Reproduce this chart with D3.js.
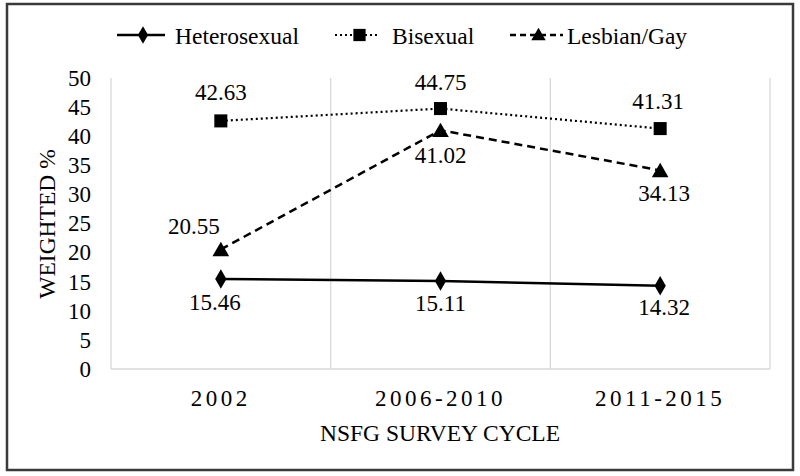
<!DOCTYPE html>
<html><head><meta charset="utf-8">
<script src="https://cdn.jsdelivr.net/npm/d3@7"></script>
</head>
<body style="margin:0">
<svg id="c" width="800" height="476"></svg>
<script>
const categories = ["2002", "2006-2010", "2011-2015"];
const heterosexual = [15.46, 15.11, 14.32];
const bisexual = [42.63, 44.75, 41.31];
const lesbianGay = [20.55, 41.02, 34.13];
const seriesNames = ["Heterosexual", "Bisexual", "Lesbian/Gay"];
const yTicks = [0, 5, 10, 15, 20, 25, 30, 35, 40, 45, 50];
const yTitle = "WEIGHTED %";
const xTitle = "NSFG SURVEY CYCLE";

const FONT = "Liberation Serif";
const svg = d3.select("#c");
const pLeft = 111, pRight = 770, pTop = 78, pBottom = 369;

svg.append("rect").attr("x", 7).attr("y", 4).attr("width", 786).attr("height", 466)
  .attr("fill", "none").attr("stroke", "#3a3a3a").attr("stroke-width", 2.5);

const x = d3.scaleBand().domain(categories).range([pLeft, pRight]).paddingInner(0).paddingOuter(0);
const y = d3.scaleLinear().domain([0, 50]).range([pBottom, pTop]);

const bounds = categories.map(c => x(c)).concat([x(categories[categories.length - 1]) + x.bandwidth()]);
svg.append("g").selectAll("line").data(bounds).join("line")
  .attr("x1", d => d).attr("x2", d => d).attr("y1", y(50)).attr("y2", y(0))
  .attr("stroke", "#d9d9d9").attr("stroke-width", 1.3);
svg.append("line").attr("x1", pLeft).attr("x2", pRight).attr("y1", y(0)).attr("y2", y(0))
  .attr("stroke", "#d9d9d9").attr("stroke-width", 1.5);

const ya = svg.append("g").attr("transform", "translate(" + (pLeft - 20) + ",0)")
  .call(d3.axisLeft(y).tickValues(yTicks).tickSize(0).tickPadding(0));
ya.attr("font-family", FONT).attr("font-size", 23);
ya.select(".domain").remove();
ya.selectAll("text").attr("font-family", FONT).attr("font-size", 23).attr("fill", "#000");

const xa = svg.append("g").attr("transform", "translate(0," + pBottom + ")")
  .call(d3.axisBottom(x).tickSize(0).tickPadding(0));
xa.attr("font-family", FONT).attr("font-size", 23);
xa.select(".domain").remove();
xa.selectAll("text").attr("font-family", FONT).attr("font-size", 23).attr("fill", "#000")
  .attr("letter-spacing", 3.5).attr("dy", 0).attr("y", 37);

svg.append("text").attr("x", 440).attr("y", 441).attr("text-anchor", "middle")
  .attr("font-family", FONT).attr("font-size", 23.5).text(xTitle);
svg.append("text").attr("transform", "translate(55,224) rotate(-90)").attr("text-anchor", "middle")
  .attr("font-family", FONT).attr("font-size", 23.5).text(yTitle);

const cx = c => x(c) + x.bandwidth() / 2;
const styles = [
  {dash: null, w: 2.5, marker: d3.symbolDiamond, size: 110, data: heterosexual},
  {dash: "2,3", w: 2.2, marker: d3.symbolSquare, size: 170, data: bisexual},
  {dash: "8,5", w: 2.5, marker: d3.symbolTriangle, size: 120, data: lesbianGay}
];
const labelPos = [
  [[-6, 31], [0, 30], [4, 29]],
  [[0, -21], [0, -19], [-2, -20]],
  [[-27, -15], [0, 33], [4, 31]]
];

const lineGen = d3.line().x(d => cx(d.c)).y(d => y(d.v));
styles.forEach((s, i) => {
  const pts = categories.map((c, j) => ({c: c, v: s.data[j]}));
  svg.append("path").datum(pts).attr("d", lineGen).attr("fill", "none")
    .attr("stroke", "#000").attr("stroke-width", s.w)
    .attr("stroke-dasharray", s.dash);
  svg.append("g").selectAll("path").data(pts).join("path")
    .attr("transform", d => "translate(" + cx(d.c) + "," + (y(d.v) + (s.marker === d3.symbolTriangle ? 2 : 0)) + ")")
    .attr("d", d3.symbol(s.marker, s.size)).attr("fill", "#000");
  svg.append("g").selectAll("text").data(pts).join("text")
    .attr("x", (d, j) => cx(d.c) + labelPos[i][j][0])
    .attr("y", (d, j) => y(d.v) + labelPos[i][j][1])
    .attr("text-anchor", "middle").attr("font-family", FONT).attr("font-size", 23)
    .text(d => d.v.toFixed(2));
});

const legX = [117, 335, 510];
const legW = [48, 43, 53];
const legY = 35;
styles.forEach((s, i) => {
  const g = svg.append("g");
  g.append("line").attr("x1", legX[i]).attr("x2", legX[i] + legW[i]).attr("y1", legY).attr("y2", legY)
    .attr("stroke", "#000").attr("stroke-width", s.w).attr("stroke-dasharray", s.dash ? (i === 1 ? "2,3" : "6,4") : null);
  g.append("path").attr("transform", "translate(" + (legX[i] + legW[i] / 2 + (i === 1 ? 3 : 2)) + "," + (legY + (i === 2 ? 1 : 0)) + ")")
    .attr("d", d3.symbol(s.marker, i === 1 ? 150 : 90)).attr("fill", "#000");
  g.append("text").attr("x", legX[i] + legW[i] + (i === 0 ? 10 : (i === 1 ? 14 : 4))).attr("y", 44)
    .attr("font-family", FONT).attr("font-size", 23.5).text(seriesNames[i]);
});
</script>
</body></html>
